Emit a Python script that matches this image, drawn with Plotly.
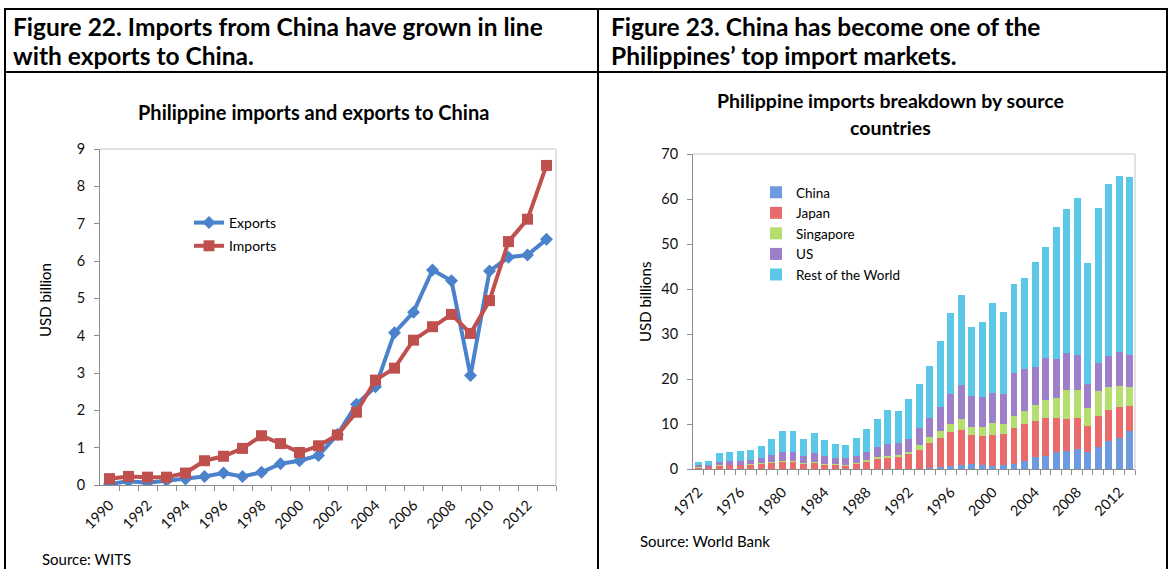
import plotly.graph_objects as go

W, H = 1172, 569
FONT = "Lato"

# ---- Figure 22: Philippine trade with China (USD billion) ----
trade_years = list(range(1990, 2014))
exports = [0.03, 0.10, 0.06, 0.12, 0.16, 0.23, 0.32, 0.23, 0.34, 0.57, 0.65, 0.79,
           1.35, 2.16, 2.63, 4.08, 4.63, 5.76, 5.47, 2.93, 5.73, 6.10, 6.16, 6.58]
imports = [0.17, 0.23, 0.21, 0.21, 0.32, 0.65, 0.77, 0.98, 1.32, 1.11, 0.87, 1.05,
           1.34, 1.95, 2.81, 3.13, 3.88, 4.24, 4.57, 4.06, 4.94, 6.52, 7.12, 8.56]
trade_tick_years = list(range(1990, 2014, 2))

# ---- Figure 23: Philippine imports by source (USD billions) ----
src_years = list(range(1972, 2014))
china = [0.02, 0.02, 0.03, 0.03, 0.03, 0.05, 0.05, 0.05, 0.06, 0.06, 0.05, 0.05, 0.05, 0.05,
         0.05, 0.06, 0.06, 0.07, 0.06, 0.05, 0.05,
         0.1, 0.2, 0.45, 0.65, 0.9, 1.1, 0.9, 0.67, 0.9, 1.1, 1.8, 2.7, 2.9, 3.8, 4.0, 4.4,
         3.8, 4.9, 6.2, 6.9, 8.4]
japan = [0.38, 0.43, 0.82, 0.87, 0.87, 0.85, 1.25, 1.45, 1.64, 1.59, 1.2, 1.35, 0.85, 0.85,
         0.75, 1.14, 1.64, 2.33, 2.54, 2.8, 3.35,
         4.2, 5.6, 6.55, 7.55, 7.8, 6.5, 6.5, 6.93, 6.9, 8.1, 8.3, 8.0, 8.5, 7.6, 7.1, 7.0,
         5.8, 6.9, 6.9, 6.9, 5.6]
singapore = [0.03, 0.03, 0.05, 0.05, 0.06, 0.15, 0.08, 0.1, 0.15, 0.15, 0.15, 0.15, 0.2, 0.2,
             0.2, 0.15, 0.3, 0.3, 0.3, 0.3, 0.3,
             1.1, 1.4, 1.4, 1.8, 2.4, 1.7, 1.9, 2.6, 2.2, 2.6, 2.8, 3.5, 3.9, 4.4, 6.5, 6.2,
             4.0, 5.5, 5.1, 4.6, 4.2]
us = [0.5, 0.45, 0.7, 0.8, 0.84, 0.95, 1.02, 1.5, 1.9, 1.95, 1.5, 1.95, 1.75, 1.3,
      1.4, 1.5, 1.75, 2.15, 2.65, 2.65, 3.0,
      3.8, 4.2, 5.4, 6.7, 7.6, 6.9, 6.7, 6.7, 6.7, 9.5, 9.3, 8.5, 9.4, 8.6, 8.2, 7.7,
      5.3, 6.3, 6.9, 7.6, 7.1]
rest_of_world = [0.6, 0.8, 1.9, 1.95, 2.2, 2.2, 2.7, 3.5, 4.65, 4.65, 3.7, 4.5, 3.55, 3.1,
                 2.9, 4.05, 5.15, 6.25, 7.55, 7.1, 8.9,
                 9.7, 11.5, 14.6, 18.0, 20.0, 15.4, 16.7, 20.0, 18.2, 19.8, 20.2, 23.3, 24.6,
                 29.4, 32.0, 34.9, 26.9, 34.4, 38.2, 39.1, 39.6]
src_tick_years = list(range(1972, 2014, 4))

source_series = [
    ("China", china, "#6E9BE0"),
    ("Japan", japan, "#EA6B6B"),
    ("Singapore", singapore, "#B5DE6E"),
    ("US", us, "#9D80C9"),
    ("Rest of the World", rest_of_world, "#5CC8E8"),
]


def px_x(p):
    return p / W


def px_y(p):
    return 1 - p / H


fig = go.Figure()

fig.add_trace(go.Scatter(
    x=trade_years, y=exports, name="Exports", mode="lines+markers",
    line=dict(color="#4A82CC", width=4),
    marker=dict(symbol="diamond", size=10, color="#4A82CC"),
    xaxis="x", yaxis="y", legend="legend", legendgroup="exp",
))
fig.add_trace(go.Scatter(
    x=trade_years, y=imports, name="Imports", mode="lines+markers",
    line=dict(color="#C0504D", width=4),
    marker=dict(symbol="square", size=11, color="#C0504D"),
    xaxis="x", yaxis="y", legend="legend", legendgroup="imp",
))

for name, vals, col in source_series:
    fig.add_trace(go.Bar(
        x=src_years, y=vals, name=name, marker=dict(color=col, line=dict(width=0)),
        xaxis="x2", yaxis="y2", legend="legend2",
    ))

AXIS_GREY = "#8C8C8C"
axis_common = dict(
    showgrid=False, zeroline=False, showline=True, linecolor=AXIS_GREY, linewidth=1,
    ticks="outside", tickcolor=AXIS_GREY,
    tickfont=dict(family=FONT, size=14.5, color="#111111"),
)


def year_axis(domain, lo, hi, tickvals, anchor, standoff):
    return dict(
        domain=domain, range=[lo - 0.5, hi + 0.5], anchor=anchor,
        tickmode="array", tickvals=tickvals, ticklen=0, tickangle=-45,
        ticklabelstandoff=standoff,
        minor=dict(tickmode="array", tickvals=[y + 0.5 for y in range(lo, hi + 1)],
                   ticks="outside", ticklen=5, tickcolor=AXIS_GREY),
        **axis_common,
    )


def value_axis(domain, top, step, anchor):
    return dict(
        domain=domain, range=[0, top], anchor=anchor,
        tickmode="array", tickvals=list(range(0, top + step, step)), ticklen=5,
        ticklabelstandoff=6,
        **axis_common,
    )


fig.update_layout(
    width=W, height=H, autosize=False,
    margin=dict(l=0, r=0, t=0, b=0, pad=0, autoexpand=False),
    paper_bgcolor="white", plot_bgcolor="white",
    font=dict(family=FONT, color="#000000"),
    barmode="stack", bargap=0.34,
    xaxis=year_axis([px_x(100), px_x(556)], 1990, 2013, trade_tick_years, "y", 5),
    yaxis=value_axis([px_y(485), px_y(149)], 9, 1, "x"),
    xaxis2=year_axis([px_x(693), px_x(1135)], 1972, 2013, src_tick_years, "y2", 8),
    yaxis2=value_axis([px_y(469), px_y(154)], 70, 10, "x2"),
    legend=dict(
        x=px_x(189), y=px_y(207), xanchor="left", yanchor="top",
        bgcolor="rgba(0,0,0,0)", borderwidth=0, itemwidth=30,
        font=dict(family=FONT, size=14), traceorder="grouped", tracegroupgap=2,
    ),
    legend2=dict(
        x=px_x(756), y=px_y(177), xanchor="left", yanchor="top",
        bgcolor="rgba(0,0,0,0)", borderwidth=0, itemwidth=30,
        font=dict(family=FONT, size=13.5), traceorder="normal", tracegroupgap=0,
    ),
    showlegend=True,
)

# Light frame around each plot area
for xr, yr in (("x domain", "y domain"), ("x2 domain", "y2 domain")):
    fig.add_shape(type="line", xref=xr, yref=yr, x0=0, x1=1, y0=1, y1=1,
                  line=dict(color="#D9D9D9", width=1.5))
    fig.add_shape(type="line", xref=xr, yref=yr, x0=1, x1=1, y0=0, y1=1,
                  line=dict(color="#D9D9D9", width=1.5))

# Table grid lines around the two figures
grid = dict(color="#000000", width=2)
fig.add_shape(type="line", xref="paper", yref="paper", x0=px_x(4), x1=px_x(1168),
              y0=px_y(9), y1=px_y(9), line=grid)
fig.add_shape(type="line", xref="paper", yref="paper", x0=px_x(4), x1=px_x(1168),
              y0=px_y(72), y1=px_y(72), line=grid)
for xv in (5, 598, 1167):
    fig.add_shape(type="line", xref="paper", yref="paper", x0=px_x(xv), x1=px_x(xv),
                  y0=px_y(8), y1=px_y(569), line=grid)


def text(x, y, s, size, bold=False, anchor="left", angle=0):
    fig.add_annotation(
        x=px_x(x), y=px_y(y), xref="paper", yref="paper", text=s, showarrow=False,
        xanchor=anchor, yanchor="middle", textangle=angle, align="center",
        font=dict(family=FONT, size=size, color="#000000",
                  weight="bold" if bold else "normal"),
    )


text(11, 27, "Figure 22. Imports from China have grown in line", 24.5, bold=True)
text(11, 56, "with exports to China.", 24.5, bold=True)
text(609, 27, "Figure 23. China has become one of the", 24.5, bold=True)
text(609, 56, "Philippines\u2019 top import markets.", 24.5, bold=True)

text(313, 112, "Philippine imports and exports to China", 20, bold=True, anchor="center")
text(890, 101, "Philippine imports breakdown by source", 19.5, bold=True, anchor="center")
text(890, 127, "countries", 19.5, bold=True, anchor="center")

text(45, 300, "USD billion", 15, anchor="center", angle=-90)
text(645, 302, "USD billions", 15, anchor="center", angle=-90)

text(40, 559, "Source: WITS", 15)
text(638, 541, "Source: World Bank", 15)

fig.write_html("out.html", config=dict(displayModeBar=False),
               post_script="document.body.style.margin='0px';")
